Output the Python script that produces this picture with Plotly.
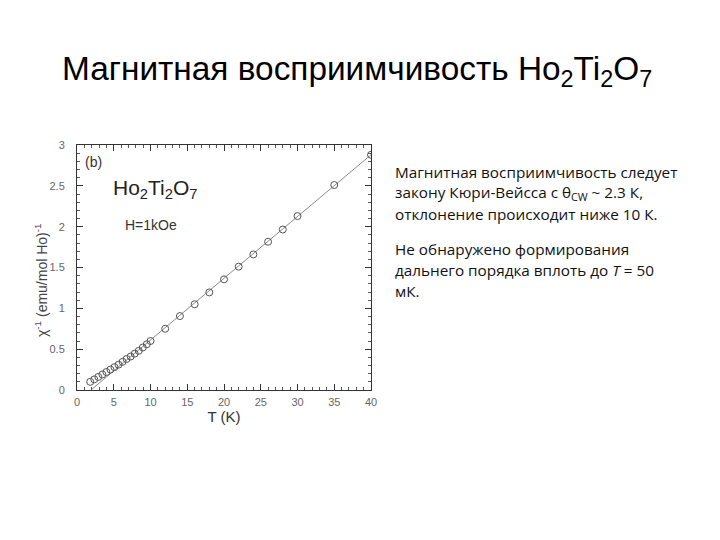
import plotly.graph_objects as go

# Data
T_low = [1.8, 2.35, 2.9, 3.45, 4.0, 4.55, 5.1, 5.65, 6.2, 6.75, 7.3, 7.85, 8.4, 8.95, 9.5, 10.0]
chi_low = [0.10, 0.13, 0.16, 0.19, 0.22, 0.25, 0.28, 0.31, 0.345, 0.38, 0.41, 0.445, 0.48, 0.52, 0.56, 0.60]
T_high = [12, 14, 16, 18, 20, 22, 24, 26, 28, 30, 35, 40]
chi_high = [0.75, 0.905, 1.05, 1.195, 1.355, 1.51, 1.66, 1.815, 1.965, 2.13, 2.51, 2.88]
fit_T = [1.9, 40]
fit_chi = [0.0, 2.88]

x_ticks = [0, 5, 10, 15, 20, 25, 30, 35, 40]
y_ticks = [0, 0.5, 1, 1.5, 2, 2.5, 3]
y_tick_labels = ["0", "0.5", "1", "1.5", "2", "2.5", "3"]

T_all = T_low + T_high
chi_all = chi_low + chi_high

fig = go.Figure()
fig.add_trace(go.Scatter(x=fit_T, y=fit_chi, mode="lines",
                         line=dict(color="#8a8a8a", width=1), showlegend=False))
fig.add_trace(go.Scatter(x=T_all, y=chi_all, mode="markers",
                         marker=dict(symbol="circle-open", size=7, color="#555555",
                                     line=dict(width=1)), showlegend=False))

# target screen positions of the plot frame
L, R, TOP, B = 77, 371, 145, 390
OFF = 8  # page body margin
W = R - L
H = B - TOP

def px(x):
    return (x - L) / W

def py(y):
    return (B - y) / H

axis_font = dict(family="Liberation Sans, Arial", size=11, color="#666666")

fig.update_xaxes(range=[0, 40], tickvals=x_ticks, ticks="inside", ticklen=6,
                 tickcolor="#333", showline=True, linecolor="#333", linewidth=1,
                 mirror="ticks", showgrid=False, zeroline=False, tickfont=axis_font,
                 ticklabelstandoff=2,
                 minor=dict(ticks="inside", ticklen=3, dtick=1, tickcolor="#555"),
                 title=dict(text="T (K)", font=dict(family="Liberation Sans, Arial", size=15, color="#333"), standoff=0))
fig.update_yaxes(range=[0, 3], tickvals=y_ticks, ticktext=y_tick_labels, ticks="inside", ticklen=6,
                 tickcolor="#333", showline=True, linecolor="#333", linewidth=1,
                 mirror="ticks", showgrid=False, zeroline=False, tickfont=axis_font,
                 ticklabelstandoff=9,
                 minor=dict(ticks="inside", ticklen=3, dtick=0.1, tickcolor="#555"))

annotations = [
    dict(x=px(41), y=py(281), text="χ<sup>-1</sup> (emu/mol Ho)<sup>-1</sup>", textangle=-90,
         font=dict(family="Liberation Sans, Arial", size=14, color="#444"),
         xanchor="center", yanchor="middle"),
    dict(x=px(83), y=py(162), text="(b)", font=dict(family="Liberation Sans, Arial", size=14, color="#333"),
         xanchor="left", yanchor="middle"),
    dict(x=px(111), y=py(189), text="Ho<sub>2</sub>Ti<sub>2</sub>O<sub>7</sub>",
         font=dict(family="Liberation Sans, Arial", size=21, color="#222"), xanchor="left", yanchor="middle"),
    dict(x=px(123), y=py(225), text="H=1kOe", font=dict(family="Liberation Sans, Arial", size=14, color="#333"),
         xanchor="left", yanchor="middle"),
    dict(x=px(60), y=py(71), text="Магнитная восприимчивость Ho<sub>2</sub>Ti<sub>2</sub>O<sub>7</sub>",
         font=dict(family="Liberation Sans, Arial", size=33.4, color="#000"), xanchor="left", yanchor="middle"),
]
right_lines = [
    (172, "Магнитная восприимчивость следует"),
    (193, "закону Кюри-Вейсса с θ<sub>CW</sub> ~ 2.3 К,"),
    (214, "отклонение происходит ниже 10 К."),
    (249, "Не обнаружено формирования"),
    (270, "дальнего порядка вплоть до <i>T</i> = 50"),
    (291, "мК."),
]
for yy, txt in right_lines:
    annotations.append(dict(x=px(393), y=py(yy), text=txt,
                            font=dict(family="Open Sans", size=15.3, color="#111"),
                            xanchor="left", yanchor="middle"))
for a in annotations:
    a.update(xref="paper", yref="paper", showarrow=False)

fig.update_layout(width=720, height=540, autosize=False,
                  margin=dict(l=L - OFF, r=720 - R + OFF, t=TOP - OFF, b=540 - B + OFF),
                  paper_bgcolor="white", plot_bgcolor="white",
                  annotations=annotations)

fig.write_html("out.html")
